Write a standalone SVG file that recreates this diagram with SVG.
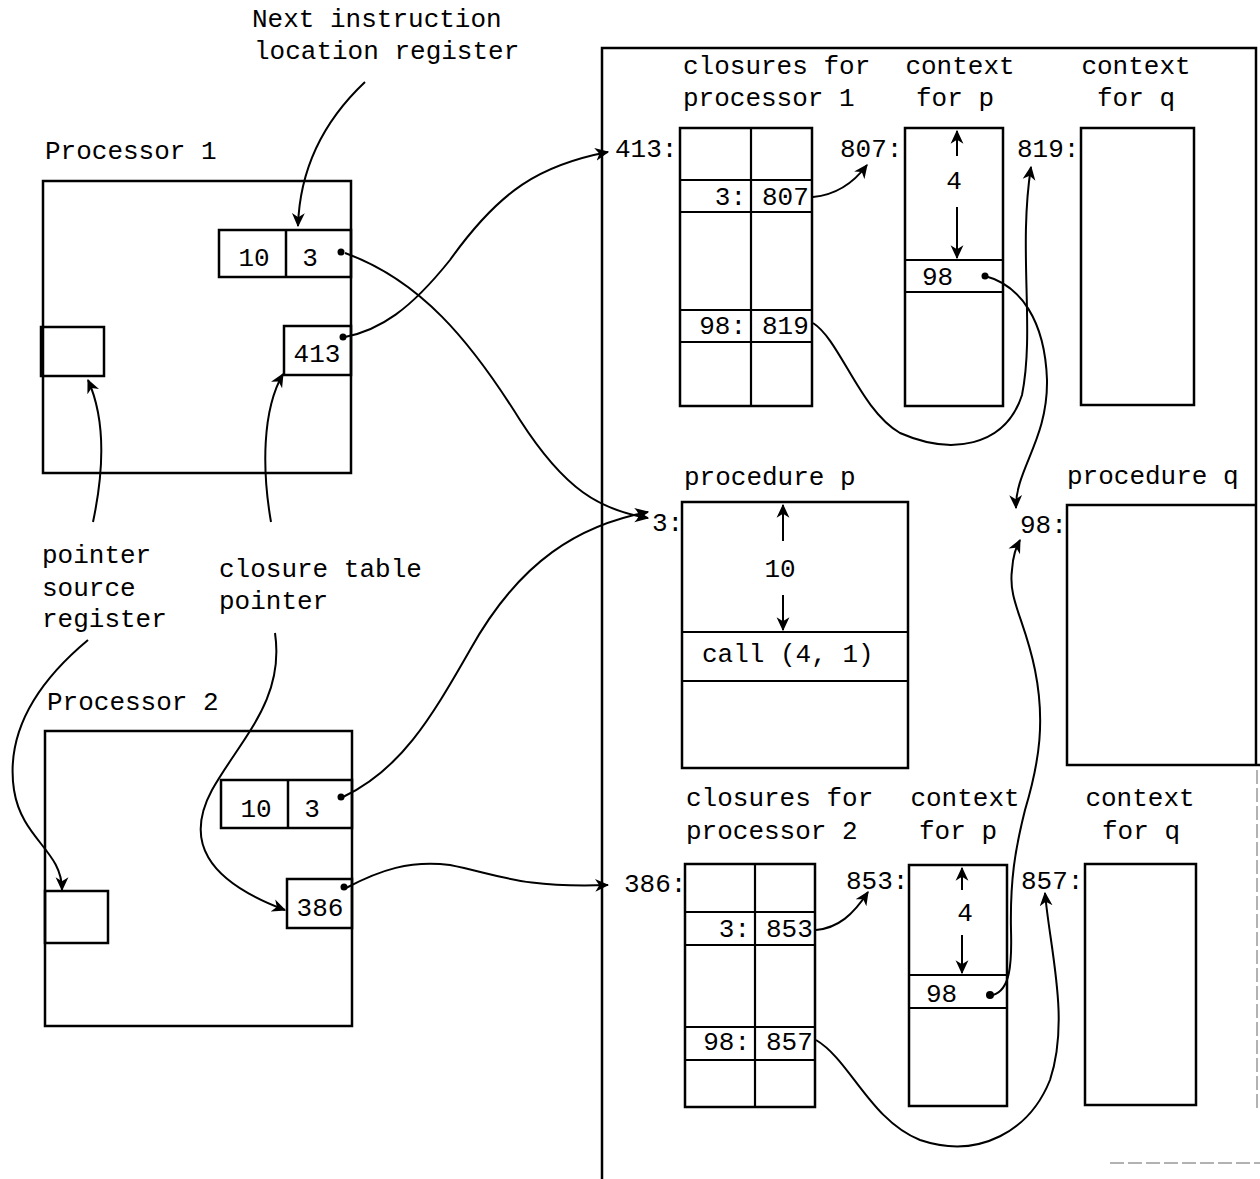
<svg xmlns="http://www.w3.org/2000/svg" width="1260" height="1179" viewBox="0 0 1260 1179">
<defs>
<style>
.b{fill:none;stroke:#000;stroke-width:2.5}
.l{fill:none;stroke:#000;stroke-width:2.2}
.c{fill:none;stroke:#000;stroke-width:2;marker-end:url(#ah)}
.t{font-family:"Liberation Mono","DejaVu Sans Mono",monospace;font-size:26px;fill:#000}
.m{text-anchor:middle}
.r{text-anchor:end}
.d{fill:#000}
</style>
<marker id="ah" viewBox="0 0 12 12" refX="11" refY="6" markerWidth="14" markerHeight="14" markerUnits="userSpaceOnUse" orient="auto"><path d="M0,0.5 L12,6 L0,11.5 L3.5,6 z" fill="#000"/></marker>
</defs>
<rect width="1260" height="1179" fill="#fff"/>

<g id="memory-frame">
<path class="b" d="M602,1179 L602,48 L1256,48 L1256,765"/>
<path d="M1257,770 L1257,1110 M1110,1163 L1260,1163" fill="none" stroke="#999" stroke-width="1.5" stroke-dasharray="14,4"/>
</g>

<g id="label-nilr"><text class="t" x="252" y="27">Next instruction</text><text class="t" x="254" y="59">location register</text></g>

<g id="processor1">
<text class="t" x="45" y="159">Processor 1</text>
<rect class="b" x="43" y="181" width="308" height="292"/>
<g id="p1-reg"><rect class="b" x="219" y="230" width="132" height="47"/><line class="b" x1="286" y1="230" x2="286" y2="277"/>
<text class="t m" x="254" y="266">10</text><text class="t m" x="310" y="266">3</text><circle class="d" cx="341" cy="252" r="3.5"/></g>
<g id="p1-ctp"><rect class="b" x="284" y="326" width="67" height="49"/><text class="t m" x="317" y="362">413</text><circle class="d" cx="343" cy="337" r="3.5"/></g>
<g id="p1-psr"><rect class="b" x="41" y="327" width="63" height="49"/></g>
</g>

<g id="labels-mid">
<text class="t" x="42" y="563">pointer</text><text class="t" x="42" y="596">source</text><text class="t" x="42" y="627">register</text>
<text class="t" x="219" y="577">closure table</text><text class="t" x="219" y="609">pointer</text>
</g>

<g id="processor2">
<text class="t" x="47" y="710">Processor 2</text>
<rect class="b" x="45" y="731" width="307" height="295"/>
<g id="p2-reg"><rect class="b" x="221" y="780" width="131" height="48"/><line class="b" x1="288" y1="780" x2="288" y2="828"/>
<text class="t m" x="256" y="817">10</text><text class="t m" x="312" y="817">3</text><circle class="d" cx="341" cy="797" r="3.5"/></g>
<g id="p2-ctp"><rect class="b" x="287" y="879" width="65" height="49"/><text class="t m" x="320" y="916">386</text><circle class="d" cx="344" cy="887" r="3.5"/></g>
<g id="p2-psr"><rect class="b" x="45" y="891" width="63" height="52"/></g>
</g>

<g id="closures1">
<text class="t" x="683" y="74">closures for</text><text class="t" x="683" y="106">processor 1</text>
<text class="t" x="615" y="157">413:</text>
<rect class="b" x="680" y="128" width="132" height="278"/>
<path class="l" d="M751,128 L751,406 M680,180 L812,180 M680,212 L812,212 M680,310 L812,310 M680,342 L812,342"/>
<text class="t r" x="746" y="205">3:</text><text class="t" x="762" y="205">807</text>
<text class="t r" x="746" y="334">98:</text><text class="t" x="762" y="334">819</text>
</g>

<g id="context-p1">
<text class="t m" x="960" y="74">context</text><text class="t m" x="955" y="106">for p</text>
<text class="t" x="840" y="157">807:</text>
<rect class="b" x="905" y="128" width="98" height="278"/>
<path class="l" d="M905,260 L1003,260 M905,292 L1003,292"/>
<text class="t m" x="954" y="189">4</text>
<path class="c" d="M957,156 L957,131"/><path class="c" d="M957,207 L957,258"/>
<text class="t" x="922" y="285">98</text><circle class="d" cx="985" cy="276" r="3.5"/>
</g>

<g id="context-q1">
<text class="t m" x="1136" y="74">context</text><text class="t m" x="1136" y="106">for q</text>
<text class="t" x="1017" y="157">819:</text>
<rect class="b" x="1081" y="128" width="113" height="277"/>
</g>

<g id="procedure-p">
<text class="t" x="684" y="485">procedure p</text>
<text class="t" x="652" y="531">3:</text>
<rect class="b" x="682" y="502" width="226" height="266"/>
<path class="l" d="M682,632 L908,632 M682,681 L908,681"/>
<text class="t m" x="780" y="577">10</text>
<path class="c" d="M783,541 L783,505"/><path class="c" d="M783,595 L783,630"/>
<text class="t" x="702" y="662">call (4, 1)</text>
</g>

<g id="procedure-q">
<text class="t" x="1067" y="484">procedure q</text>
<text class="t" x="1020" y="533">98:</text>
<path class="b" d="M1256,505 L1067,505 L1067,765 L1260,765"/>
</g>

<g id="closures2">
<text class="t" x="686" y="806">closures for</text><text class="t" x="686" y="839">processor 2</text>
<text class="t" x="624" y="892">386:</text>
<rect class="b" x="685" y="864" width="130" height="243"/>
<path class="l" d="M755,864 L755,1107 M685,912 L815,912 M685,945 L815,945 M685,1027 L815,1027 M685,1060 L815,1060"/>
<text class="t r" x="750" y="937">3:</text><text class="t" x="766" y="937">853</text>
<text class="t r" x="750" y="1050">98:</text><text class="t" x="766" y="1050">857</text>
</g>

<g id="context-p2">
<text class="t m" x="965" y="806">context</text><text class="t m" x="958" y="839">for p</text>
<text class="t" x="846" y="889">853:</text>
<rect class="b" x="909" y="865" width="98" height="241"/>
<path class="l" d="M909,975 L1007,975 M909,1008 L1007,1008"/>
<text class="t m" x="965" y="921">4</text>
<path class="c" d="M962,890 L962,868"/><path class="c" d="M962,935 L962,973"/>
<text class="t" x="926" y="1002">98</text><circle class="d" cx="990" cy="995" r="4"/>
</g>

<g id="context-q2">
<text class="t m" x="1140" y="806">context</text><text class="t m" x="1141" y="839">for q</text>
<text class="t" x="1021" y="889">857:</text>
<rect class="b" x="1085" y="864" width="111" height="241"/>
</g>

<g id="connectors">
<path class="c" d="M365,82 C330,115 300,160 298,226"/>
<path class="c" d="M93,522 C104,470 106,420 88,380"/>
<path class="c" d="M271,522 C262,470 262,410 283,374"/>
<path class="c" d="M88,640 C40,680 5,730 14,790 C22,840 62,850 62,890"/>
<path class="c" d="M275,633 C285,700 240,740 212,790 C185,840 205,880 285,910"/>
<path class="c" d="M345,337 C380,330 410,310 450,260 C500,190 540,165 608,152"/>
<path class="c" d="M345,253 C420,280 470,340 520,420 C565,490 600,510 648,518"/>
<path class="c" d="M343,797 C400,770 430,720 470,650 C520,560 580,525 648,512"/>
<path class="c" d="M346,888 C380,870 410,860 450,865 C500,875 520,888 608,885"/>
<path class="c" d="M813,197 C835,195 852,185 867,165"/>
<path class="c" d="M813,323 C840,340 860,410 900,433 C950,455 1005,448 1022,395 C1035,330 1018,250 1031,167"/>
<path class="c" d="M985,276 C1020,285 1045,320 1047,380 C1048,440 1015,470 1016,508"/>
<path class="c" d="M993,995 C1010,990 1012,965 1011,930 C1010,880 1015,850 1025,810 C1040,760 1045,720 1035,670 C1025,620 1008,600 1012,570 C1013,555 1016,548 1020,540"/>
<path class="c" d="M816,930 C838,928 853,915 868,892"/>
<path class="c" d="M816,1040 C850,1060 870,1120 920,1140 C980,1160 1030,1130 1050,1080 C1070,1020 1050,950 1045,893"/>
</g>
</svg>
